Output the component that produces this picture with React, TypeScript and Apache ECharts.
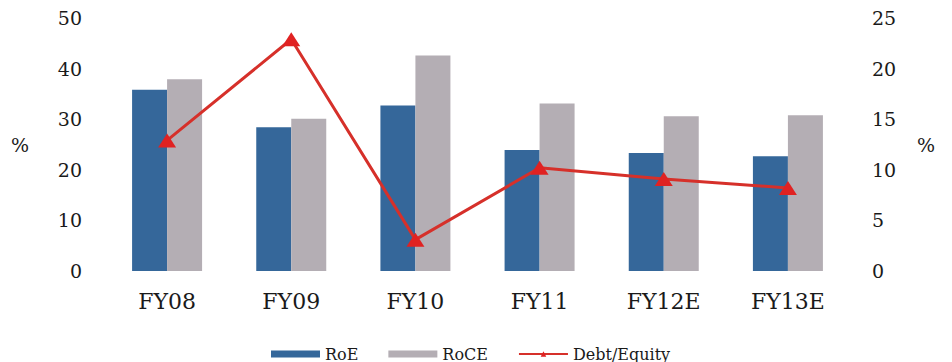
import React, { useEffect, useRef } from "react";
import * as echarts from "echarts";

const categories = ["FY08", "FY09", "FY10", "FY11", "FY12E", "FY13E"];
const roe = [35.8, 28.4, 32.7, 23.9, 23.3, 22.7];
const roce = [37.9, 30.1, 42.6, 33.1, 30.6, 30.8];
const debtEquity = [12.9, 22.9, 3.1, 10.2, 9.1, 8.2];

const FONT = "DejaVu Serif";
const TEXT = "#1a1a1a";

export default function App() {
  const ref = useRef<HTMLDivElement>(null);

  useEffect(() => {
    if (!ref.current) return;
    const chart = echarts.init(ref.current, null, { renderer: "svg" });
    chart.setOption({
      animation: false,
      backgroundColor: "#ffffff",
      textStyle: { fontFamily: FONT, color: TEXT },
      grid: { left: 105, right: 102, top: 18, bottom: 91 },
      legend: {
        left: 266,
        top: 341,
        itemWidth: 49,
        itemHeight: 7,
        itemGap: 30,
        textStyle: { fontFamily: FONT, fontSize: 16, color: TEXT },
        data: [
          { name: "RoE", icon: "rect" },
          { name: "RoCE", icon: "rect" },
          { name: "Debt/Equity" },
        ],
      },
      graphic: [
        {
          type: "text",
          left: 11,
          top: 135,
          style: { text: "%", fontFamily: FONT, fontSize: 19, fill: TEXT },
        },
        {
          type: "text",
          left: 917,
          top: 135,
          style: { text: "%", fontFamily: FONT, fontSize: 19, fill: TEXT },
        },
      ],
      xAxis: {
        type: "category",
        data: categories,
        axisLine: { show: false },
        axisTick: { show: false },
        axisLabel: { fontFamily: FONT, fontSize: 22, color: TEXT, margin: 19 },
      },
      yAxis: [
        {
          type: "value",
          min: 0,
          max: 50,
          interval: 10,
          splitLine: { show: false },
          axisLine: { show: false },
          axisTick: { show: false },
          axisLabel: { fontFamily: FONT, fontSize: 19, color: TEXT, margin: 23 },
        },
        {
          type: "value",
          min: 0,
          max: 25,
          interval: 5,
          position: "right",
          splitLine: { show: false },
          axisLine: { show: false },
          axisTick: { show: false },
          axisLabel: { fontFamily: FONT, fontSize: 19, color: TEXT, margin: 22 },
        },
      ],
      series: [
        {
          name: "RoE",
          type: "bar",
          data: roe,
          barWidth: 35,
          barGap: "0%",
          itemStyle: { color: "#35679a" },
        },
        {
          name: "RoCE",
          type: "bar",
          data: roce,
          barWidth: 35,
          barGap: "0%",
          itemStyle: { color: "#b4aeb4" },
        },
        {
          name: "Debt/Equity",
          type: "line",
          yAxisIndex: 1,
          data: debtEquity,
          symbol: "triangle",
          symbolSize: [18, 14],
          lineStyle: { color: "#d6302a", width: 3 },
          itemStyle: { color: "#e02222" },
        },
      ],
    });
    return () => chart.dispose();
  }, []);

  return (
    <div
      ref={ref}
      style={{ position: "fixed", left: 0, top: 0, width: 952, height: 362 }}
    />
  );
}
